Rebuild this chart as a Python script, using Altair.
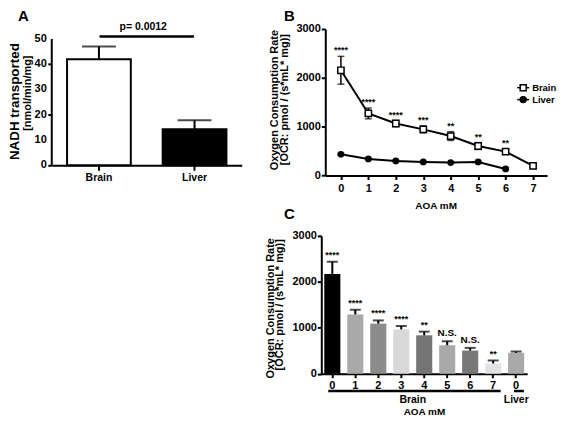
import altair as alt
import pandas as pd

FONT = "Liberation Sans"

# ---------------- data ----------------
panel_letters = ["A", "B", "C"]
a_ytitle = ["NADH transported", "[nmol/min/mg]"]
ocr_title = ["Oxygen Consumption Rate", "[OCR: pmol / (s*mL* mg)]"]
x_title = "AOA mM"
p_text = "p= 0.0012"

# Panel A
a_tissue = ["Brain", "Liver"]
a_mean = [42.0, 14.3]
a_sem = [5.0, 3.5]
a_ticks = [0, 10, 20, 30, 40, 50]

# Panel B
b_dose = [0, 1, 2, 3, 4, 5, 6, 7]
b_brain_mean = [2155, 1271, 1065, 945, 808, 604, 490, 196]
b_brain_sem = [285, 110, 60, 70, 90, 70, 45, 50]
b_brain_sig = ["****", "****", "****", "***", "**", "**", "**", ""]
b_liver_dose = [0, 1, 2, 3, 4, 5, 6]
b_liver_mean = [435, 340, 298, 278, 265, 278, 135]
b_liver_sem = [20, 15, 15, 15, 15, 15, 25]
legend_names = ["Brain", "Liver"]
ocr_ticks = [0, 1000, 2000, 3000]

# Panel C
c_group = ["Brain"] * 8 + ["Liver"]
c_dose = ["0", "1", "2", "3", "4", "5", "6", "7", "0"]
c_mean = [2171, 1290, 1089, 965, 836, 620, 504, 223, 454]
c_sem = [266, 102, 71, 74, 80, 86, 58, 65, 29]
c_sig = ["****", "****", "****", "****", "**", "N.S.", "N.S.", "**", ""]

# ---------------- styles ----------------
a_fill = ["#ffffff", "#000000"]
c_fill = ["#000000", "#a9a9a9", "#8c8c8c", "#d9d9d9", "#747474",
          "#a9a9a9", "#787878", "#e2e2e2", "#a9a9a9"]


def label(text, x, y, size, weight="bold", angle=0, align="center", baseline="middle"):
    return alt.Chart(pd.DataFrame({"t": [text]})).mark_text(
        font=FONT, fontSize=size, fontWeight=weight, angle=angle, align=align,
        baseline=baseline, color="black"
    ).encode(x=alt.value(x), y=alt.value(y), text="t:N")


def hline(x1, x2, y, width):
    return alt.Chart(pd.DataFrame({"t": [0]})).mark_rule(
        color="black", strokeWidth=width
    ).encode(x=alt.value(x1), x2=alt.value(x2), y=alt.value(y))


# ---------------- Panel A ----------------
A_W, A_H = 191, 137
A_TOP = 50 * A_H / 127.0  # value at the top edge of the plot (axis stops at 50)
dfA = pd.DataFrame({"tissue": a_tissue, "mean": a_mean, "sem": a_sem})
baseA = alt.Chart(dfA).transform_calculate(top="datum.mean + datum.sem")
xA = alt.X("tissue:N", sort=a_tissue,
           scale=alt.Scale(paddingInner=1 / 3, paddingOuter=0.16),
           axis=alt.Axis(title=None, labelAngle=0, labelFontSize=10.5,
                         labelPadding=2, tickSize=5))
yA = alt.Y("mean:Q", scale=alt.Scale(domain=[0, A_TOP], nice=False),
           axis=alt.Axis(title=None, values=a_ticks, domain=False, labels=False,
                         tickSize=4))
barsA = baseA.mark_bar(stroke="black", strokeWidth=2).encode(
    x=xA, y=yA,
    fill=alt.Fill("tissue:N", scale=alt.Scale(domain=a_tissue, range=a_fill), legend=None))
errA = baseA.mark_rule(color="black", strokeWidth=2).encode(x=xA, y="mean:Q", y2="top:Q")
capA = baseA.mark_tick(color="black", size=34, thickness=2, orient="horizontal").encode(
    x=xA, y="top:Q")
dfAt = pd.DataFrame({"v": a_ticks})
axisLineA = alt.Chart(pd.DataFrame({"lo": [min(a_ticks)], "hi": [max(a_ticks)]})).mark_rule(
    color="black", strokeWidth=2).encode(x=alt.value(0), y="lo:Q", y2="hi:Q")
tickLabA = alt.Chart(dfAt).mark_text(
    font=FONT, fontSize=11, fontWeight="bold", align="right", baseline="middle", color="black"
).encode(x=alt.value(-5), y="v:Q", text=alt.Text("v:Q", format="d"))

A = alt.layer(
    barsA, errA, capA, axisLineA, tickLabA,
    hline(48, 143, 7.5, 2.5),
    label(p_text, 92, 1.5, 10.5, baseline="alphabetic"),
    label(panel_letters[0], -28.5, -8, 15, baseline="alphabetic"),
    label(a_ytitle[0], -37, 73, 13.5, angle=270),
    label(a_ytitle[1], -24, 64.5, 11, angle=270),
).properties(width=A_W, height=A_H)

# ---------------- Panel B ----------------
B_W, B_H = 227, 147.3
dfB = pd.concat([
    pd.DataFrame({"tissue": "Brain", "dose": b_dose, "mean": b_brain_mean,
                  "sem": b_brain_sem, "sig": b_brain_sig}),
    pd.DataFrame({"tissue": "Liver", "dose": b_liver_dose, "mean": b_liver_mean,
                  "sem": b_liver_sem, "sig": [""] * len(b_liver_dose)}),
], ignore_index=True)
baseB = alt.Chart(dfB).transform_calculate(
    lo="datum.mean - datum.sem", hi="datum.mean + datum.sem")
xB = alt.X("dose:Q", scale=alt.Scale(domain=[-0.57, 7.51], range=[4, B_W], nice=False, zero=False),
           axis=alt.Axis(title=None, values=b_dose, format="d", tickSize=4,
                         labelPadding=3, labelFlush=False, labelOverlap=False))
yB = alt.Y("mean:Q", scale=alt.Scale(domain=[0, 3000], nice=False),
           axis=alt.Axis(title=None, values=ocr_ticks, format="d", tickSize=4,
                         labelPadding=1, offset=-4, labelOverlap=False))
lineB = baseB.mark_line(color="black", strokeWidth=2).encode(x=xB, y=yB, detail="tissue:N")
errB = baseB.mark_rule(color="black", strokeWidth=1.5).encode(x=xB, y="lo:Q", y2="hi:Q")
capHiB = baseB.mark_tick(color="black", size=7, thickness=1.5, orient="horizontal").encode(x=xB, y="hi:Q")
capLoB = baseB.mark_tick(color="black", size=7, thickness=1.5, orient="horizontal").encode(x=xB, y="lo:Q")
ptBrain = baseB.transform_filter("datum.tissue == 'Brain'").mark_point(
    shape="square", filled=True, fill="white", stroke="black", strokeWidth=1.5,
    size=40, opacity=1).encode(x=xB, y="mean:Q")
ptLiver = baseB.transform_filter("datum.tissue == 'Liver'").mark_point(
    shape="circle", filled=True, color="black", size=45, opacity=1).encode(x=xB, y="mean:Q")
starB = baseB.transform_filter("datum.sig != ''").mark_text(
    font=FONT, fontSize=9, fontWeight="bold", baseline="alphabetic", dy=-3, color="black"
).encode(x=xB, y="hi:Q", text="sig:N")

dfL = pd.DataFrame({"name": legend_names})
legB = []
for i, shape_fill in enumerate([("square", "white"), ("circle", "black")]):
    yy = 59 + 12 * i
    legB.append(hline(197, 209, yy, 1.5))
    legB.append(alt.Chart(dfL).transform_filter(f"datum.name == '{legend_names[i]}'").mark_point(
        shape=shape_fill[0], filled=True, fill=shape_fill[1], stroke="black",
        strokeWidth=1.5, size=36, opacity=1).encode(x=alt.value(203), y=alt.value(yy)))
    legB.append(label(legend_names[i], 212, yy, 9.5, align="left"))

B = alt.layer(
    lineB, errB, capHiB, capLoB, ptBrain, ptLiver, starB, *legB,
    label(panel_letters[1], -32, -8, 15, baseline="alphabetic"),
    label(ocr_title[0], -47, 71.5, 11, angle=270),
    label(ocr_title[1], -36, 71, 11, angle=270),
    label(x_title, 115.5, 178, 10),
).properties(width=B_W, height=B_H)

# ---------------- Panel C ----------------
C_W, C_H = 207, 138.6
c_key = [f"{g} {d}" for g, d in zip(c_group, c_dose)]
dfC = pd.DataFrame({"key": c_key, "group": c_group, "dose": c_dose,
                    "mean": c_mean, "sem": c_sem, "sig": c_sig})
baseC = alt.Chart(dfC).transform_calculate(hi="datum.mean + datum.sem")
xC = alt.X("key:N", sort=c_key, scale=alt.Scale(paddingInner=0.3, paddingOuter=0.13),
           axis=alt.Axis(title=None, labelAngle=0, labelExpr="split(datum.label, ' ')[1]",
                         tickSize=4, labelPadding=2, labelOverlap=False))
yC = alt.Y("mean:Q", scale=alt.Scale(domain=[0, 3000], nice=False),
           axis=alt.Axis(title=None, values=ocr_ticks, format="d", tickSize=4,
                         labelPadding=1, labelOverlap=False))
barsC = baseC.mark_bar().encode(
    x=xC, y=yC,
    color=alt.Color("key:N", scale=alt.Scale(domain=c_key, range=c_fill), legend=None))
errC = baseC.mark_rule(color="black", strokeWidth=2).encode(x=xC, y="mean:Q", y2="hi:Q")
capC = baseC.mark_tick(color="black", size=11, thickness=2, orient="horizontal").encode(x=xC, y="hi:Q")
starC = baseC.transform_filter("datum.sig != '' && datum.sig != 'N.S.'").mark_text(
    font=FONT, fontSize=9, fontWeight="bold", baseline="alphabetic", dy=-4, color="black"
).encode(x=xC, y="hi:Q", text="sig:N")
nsC = baseC.transform_filter("datum.sig == 'N.S.'").mark_text(
    font=FONT, fontSize=10, fontWeight="bold", baseline="alphabetic", dy=-5, color="black"
).encode(x=xC, y="hi:Q", text="sig:N")

C = alt.layer(
    barsC, errC, capC, starC, nsC,
    hline(7, 180.3, 156, 2.5),
    hline(193.7, 203.7, 156, 2.5),
    label("Brain", 92, 165, 10.5),
    label("Liver", 196, 165, 10.5),
    label(x_title, 103.7, 177, 10),
    label(panel_letters[2], -32, -16.7, 15, baseline="alphabetic"),
    label(ocr_title[0], -51, 72.8, 11, angle=270),
    label(ocr_title[1], -41, 69.3, 11, angle=270),
).properties(width=C_W, height=C_H)

right = alt.vconcat(B, C, spacing=60, bounds="flush").resolve_scale(
    color="independent", fill="independent")
chart = alt.hconcat(A, right, spacing=80, bounds="flush").resolve_scale(
    color="independent", fill="independent"
).properties(
    padding={"left": 0, "top": 0, "right": 0, "bottom": 0}
).configure_view(stroke=None).configure_axis(
    domainColor="black", domainWidth=2, tickColor="black", tickWidth=2,
    labelColor="black", labelFont=FONT, labelFontSize=11, labelFontWeight="bold",
    grid=False
)

chart.save("out.html", embed_options={"renderer": "svg", "actions": False})
